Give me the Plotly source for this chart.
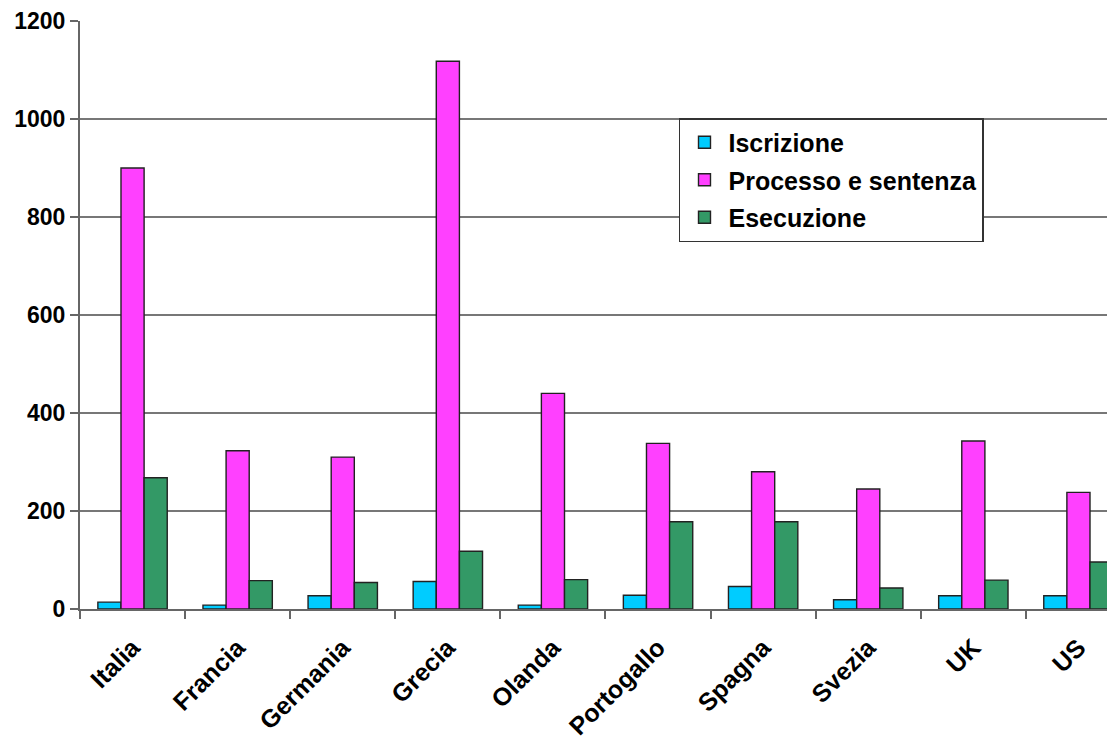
import plotly.graph_objects as go

categories = ["Italia", "Francia", "Germania", "Grecia", "Olanda",
              "Portogallo", "Spagna", "Svezia", "UK", "US"]
iscrizione = [14, 8, 27, 56, 8, 28, 46, 19, 27, 27]
processo = [900, 323, 310, 1118, 440, 338, 280, 245, 343, 238]
esecuzione = [268, 58, 54, 118, 60, 178, 178, 43, 59, 96]
y_ticks = [0, 200, 400, 600, 800, 1000, 1200]

series = [
    ("Iscrizione", iscrizione, "#00CCFF"),
    ("Processo e sentenza", processo, "#FF40FF"),
    ("Esecuzione", esecuzione, "#339966"),
]

fig = go.Figure()
for name, vals, color in series:
    fig.add_trace(go.Bar(
        x=categories, y=vals, name=name, legendgroup=name,
        marker=dict(color=color, line=dict(color="#222222", width=1.4)),
    ))

font_family = "Liberation Sans, Arial, sans-serif"

fig.update_layout(
    width=1115, height=755,
    margin=dict(l=72, r=0, t=13, b=154, autoexpand=False),
    paper_bgcolor="white", plot_bgcolor="white",
    barmode="group", bargap=0.34, bargroupgap=0,
    font=dict(family=font_family, color="black"),
    showlegend=True,
    legend=dict(
        x=0.5743, y=0.835, xanchor="left", yanchor="top",
        bgcolor="white", bordercolor="#333333", borderwidth=1.5,
        font=dict(size=25, family=font_family, color="black", weight="bold"),
        tracegroupgap=2, itemwidth=38,
    ),
    xaxis=dict(
        type="category",
        automargin=False,
        range=[-0.5, 9.424],
        tickson="boundaries",
        ticks="outside", ticklen=8, tickcolor="#666666", tickwidth=2,
        showline=True, linecolor="#666666", linewidth=2,
        showgrid=False,
        tickangle=-45,
        ticklabelstandoff=12,
        tickfont=dict(size=25, family=font_family, color="black", weight="bold"),
    ),
    yaxis=dict(
        automargin=False,
        range=[0, 1200],
        tickvals=y_ticks,
        ticks="outside", ticklen=8, tickcolor="#666666", tickwidth=2,
        showline=True, linecolor="#666666", linewidth=2,
        showgrid=True, gridcolor="#777777", gridwidth=2,
        zeroline=False,
        tickfont=dict(size=23, family=font_family, color="black", weight="bold"),
    ),
)

fig.write_html("out.html")
